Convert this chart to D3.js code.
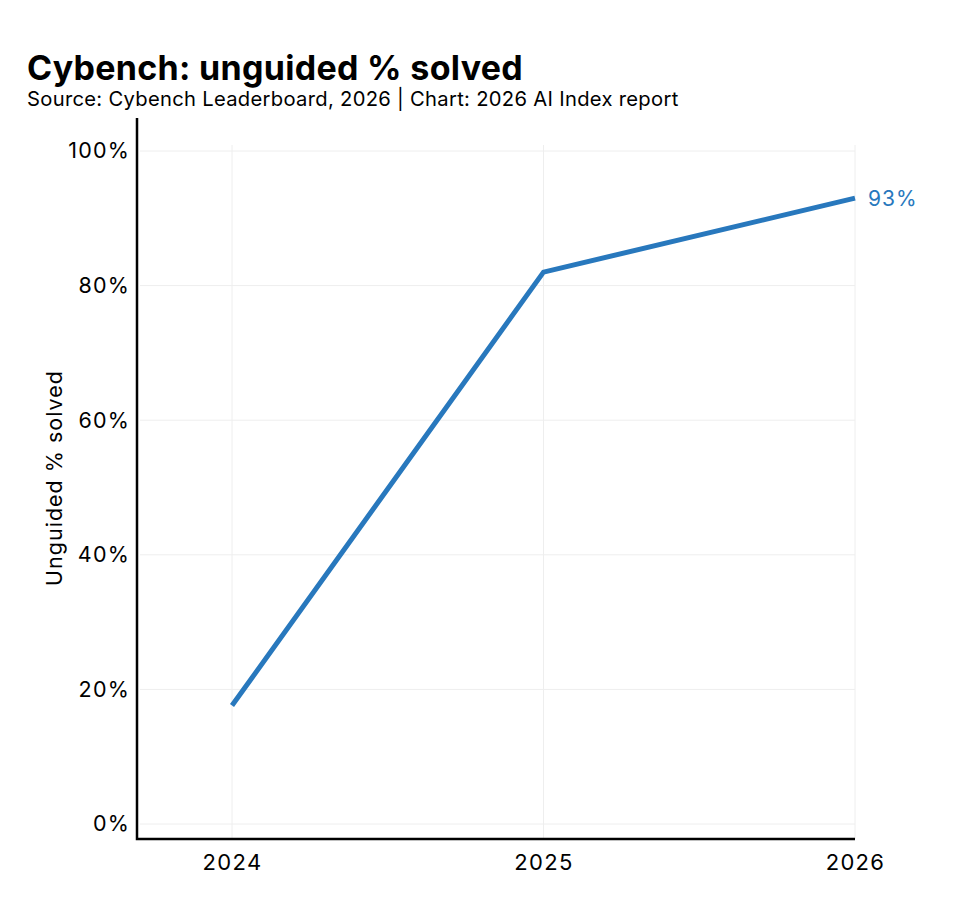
<!DOCTYPE html>
<html>
<head>
<meta charset="utf-8">
<script src="https://cdn.jsdelivr.net/npm/d3@7"></script>
<style>
  body { margin: 0; background: #fff; }
  svg { font-family: Inter, "Noto Sans", sans-serif; }
</style>
</head>
<body>
<svg id="chart" width="960" height="924"></svg>
<script>
var years = [2024, 2025, 2026],
    solved = [17.6, 82, 93],
    yTicks = [0, 20, 40, 60, 80, 100];

var svg = d3.select('#chart'),
    blue = '#2878bd',
    plotLeft = 137, plotRight = 855, plotTop = 118, plotBottom = 839;

var x = d3.scaleLinear().domain([2024, 2026]).range([232, 855]),
    y = d3.scaleLinear().domain([0, 100]).range([824, 151]);

// titles
svg.append('text')
    .attr('x', 27).attr('y', 80)
    .attr('font-size', 34).attr('font-weight', 700)
    .attr('letter-spacing', 0.3)
    .attr('fill', '#000')
    .text('Cybench: unguided % solved');

svg.append('text')
    .attr('x', 27).attr('y', 106)
    .attr('font-size', 20.2)
    .attr('letter-spacing', 0.3)
    .attr('fill', '#000')
    .text('Source: Cybench Leaderboard, 2026 | Chart: 2026 AI Index report');

// grid
svg.append('g').selectAll('line')
    .data(yTicks).enter().append('line')
    .attr('x1', plotLeft + 3).attr('x2', plotRight)
    .attr('y1', function(d){ return y(d); })
    .attr('y2', function(d){ return y(d); })
    .attr('stroke', '#eeeeee').attr('stroke-width', 1);

svg.append('g').selectAll('line')
    .data(years).enter().append('line')
    .attr('x1', function(d){ return x(d); })
    .attr('x2', function(d){ return x(d); })
    .attr('y1', 145).attr('y2', plotBottom)
    .attr('stroke', '#eeeeee').attr('stroke-width', 1);

// axes
var yAxis = d3.axisLeft(y)
    .tickValues(yTicks)
    .tickSize(0).tickPadding(7)
    .tickFormat(function(d){ return d + '%'; });

var gy = svg.append('g')
    .attr('transform', 'translate(' + plotLeft + ',0)')
    .call(yAxis);
gy.select('.domain').remove();
gy.selectAll('text').attr('font-size', 21.5).attr('fill', '#000')
    .attr('letter-spacing', 1.2)
    .attr('font-family', 'Inter, "Noto Sans", sans-serif');

var xAxis = d3.axisBottom(x)
    .tickValues(years)
    .tickSize(0).tickPadding(15)
    .tickFormat(d3.format('d'));

var gx = svg.append('g')
    .attr('transform', 'translate(0,' + plotBottom + ')')
    .call(xAxis);
gx.select('.domain').remove();
gx.selectAll('text').attr('font-size', 22).attr('fill', '#000')
    .attr('letter-spacing', 1.3)
    .attr('font-family', 'Inter, "Noto Sans", sans-serif');

svg.append('path')
    .attr('d', 'M' + plotLeft + ',' + plotTop + 'V' + plotBottom + 'H' + plotRight)
    .attr('fill', 'none').attr('stroke', '#000').attr('stroke-width', 2.5);

// axis title
svg.append('text')
    .attr('transform', 'translate(62,478) rotate(-90)')
    .attr('text-anchor', 'middle')
    .attr('font-size', 21.5).attr('fill', '#000')
    .attr('letter-spacing', 1)
    .text('Unguided % solved');

// line
var line = d3.line()
    .x(function(d, i){ return x(years[i]); })
    .y(function(d){ return y(d); });

svg.append('path')
    .datum(solved)
    .attr('d', line)
    .attr('fill', 'none')
    .attr('stroke', blue)
    .attr('stroke-width', 5);

svg.append('text')
    .attr('x', x(2026) + 13)
    .attr('y', y(solved[2]) + 8)
    .attr('font-size', 21).attr('fill', blue)
    .attr('letter-spacing', 1)
    .text(solved[2].toFixed(0) + '%');
</script>
</body>
</html>
